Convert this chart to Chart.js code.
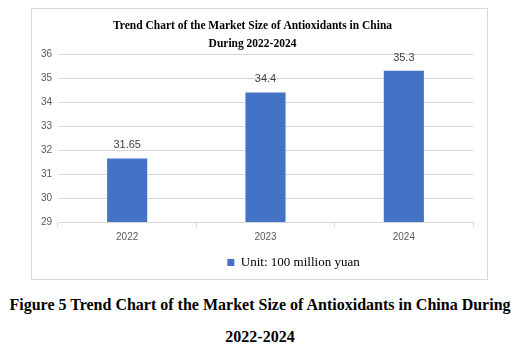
<!DOCTYPE html>
<html>
<head>
<meta charset="utf-8">
<script src="https://cdn.jsdelivr.net/npm/chart.js@4"></script>
<style>
    body {
        margin: 0;
        background: #fff;
        width: 520px;
        height: 347px;
        position: relative;
        overflow: hidden;
    }
    .chart-box {
        position: absolute;
        left: 31px;
        top: 8px;
        width: 455px;
        height: 270px;
        border: 1px solid #d9d9d9;
    }
    .caption {
        position: absolute;
        left: 0;
        top: 289px;
        width: 520px;
        text-align: center;
        font: bold 16px "Liberation Serif", serif;
        line-height: 32px;
        color: #000;
        white-space: nowrap;
    }
</style>
</head>
<body>
<div class="chart-box"><canvas id="marketChart" width="455" height="270"></canvas></div>
<div class="caption">Figure 5 Trend Chart of the Market Size of Antioxidants in China During<br>2022-2024</div>

<script>
const years = ["2022", "2023", "2024"];
const marketSize = [31.65, 34.4, 35.3];
const titleLines = ["Trend Chart of the Market Size of Antioxidants in China", "During 2022-2024"];
const seriesName = "Unit: 100 million yuan";

// value labels above each bar
const barValueLabels = {
    id: "barValueLabels",
    afterDatasetsDraw(chart) {
        const ctx = chart.ctx;
        const meta = chart.getDatasetMeta(0);
        ctx.save();
        ctx.font = "11px 'Liberation Sans', sans-serif";
        ctx.fillStyle = "#404040";
        ctx.textAlign = "center";
        ctx.textBaseline = "middle";
        meta.data.forEach((bar, i) => {
            ctx.fillText(String(marketSize[i]), bar.x, bar.y - 13);
        });
        ctx.restore();
    },
};

// Excel placed the legend a bit right of centre
const legendShift = {
    id: "legendShift",
    afterLayout(chart) {
        if (chart.legend) {
            chart.legend.left += 41;
            chart.legend.right += 41;
        }
    },
};

new Chart(document.getElementById("marketChart"), {
    type: "bar",
    data: {
        labels: years,
        datasets: [
            {
                label: seriesName,
                data: marketSize,
                backgroundColor: "#4472c4",
                barPercentage: 0.29,
                categoryPercentage: 1,
            },
        ],
    },
    options: {
        responsive: false,
        animation: false,
        layout: {
            padding: { top: 8, right: 14, left: 0, bottom: 0 },
        },
        plugins: {
            title: {
                display: true,
                text: titleLines,
                color: "#000",
                font: { family: "'Liberation Serif', serif", size: 11.5, weight: "bold", lineHeight: 18 / 11.5 },
                padding: { top: 0, bottom: 1 },
            },
            legend: {
                position: "bottom",
                labels: {
                    color: "#000",
                    font: { family: "'Liberation Serif', serif", size: 13 },
                    boxWidth: 7,
                    boxHeight: 7,
                    padding: 9,
                },
            },
            tooltip: { enabled: false },
        },
        scales: {
            x: {
                grid: {
                    display: true,
                    drawOnChartArea: false,
                    drawTicks: true,
                    tickLength: 5,
                    color: "#d9d9d9",
                },
                border: { display: true, color: "#d9d9d9" },
                ticks: {
                    color: "#595959",
                    font: { family: "'Liberation Sans', sans-serif", size: 10 },
                    padding: 4,
                },
            },
            y: {
                min: 29,
                max: 36,
                afterFit(scale) {
                    scale.width = 26;
                },
                grid: { color: "#d9d9d9", drawTicks: false },
                border: { display: false },
                ticks: {
                    stepSize: 1,
                    color: "#595959",
                    font: { family: "'Liberation Sans', sans-serif", size: 10 },
                    padding: 6,
                },
            },
        },
    },
    plugins: [barValueLabels, legendShift],
});
</script>
</body>
</html>
